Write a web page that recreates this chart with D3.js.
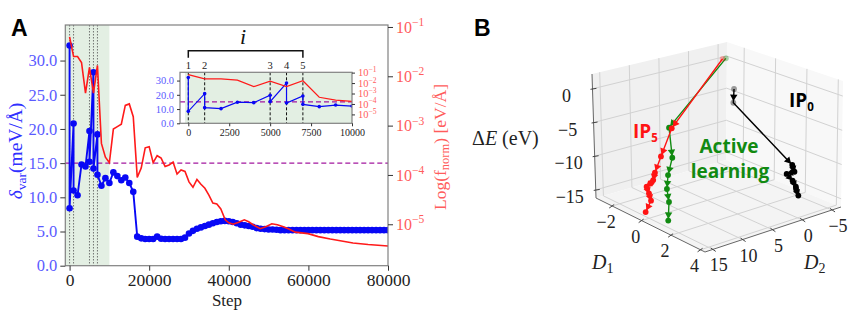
<!DOCTYPE html>
<html>
<head>
<meta charset="utf-8">
<script src="https://cdnjs.cloudflare.com/ajax/libs/d3/7.8.5/d3.min.js"></script>
<style>
body { margin: 0; background: #fff; }
svg { display: block; }
text { font-family: "Liberation Serif", serif; }
</style>
</head>
<body>
<div id="chart-area"></div>
<script>
// panel A data
var blueSteps = [0,0,1000,1000,2000,3000,4000,5000,5000,6000,6000,7000,7000,8000,9000,10000,
    11000,12000,13000,14000,15000,16000,17000,18000,19000,20000,21000,22000,23000,24000,25000,26000,27000,28000,29000,30000,
    31000,32000,33000,34000,35000,36000,37000,38000,39000,40000,41000,42000,43000,44000,45000,46000,47000,48000,49000,50000,
    51000,52000,53000,54000,55000,56000,57000,58000,59000,60000,61000,62000,63000,64000,65000,66000,67000,68000,69000,70000,
    71000,72000,73000,74000,75000,76000,77000,78000,79000,80000];
var blueVar = [32.2,8.4,20.8,11,10.3,14.8,14.5,19.7,15.2,28.3,14.2,19.2,13.3,11.7,12.8,12.1,
    13.65,13.1,12.5,12.9,12.1,10.8,4.25,4.0,3.9,3.9,3.9,4.25,3.95,3.9,3.9,3.9,3.9,3.9,4.1,4.7,
    5.1,5.4,5.6,5.8,6.0,6.2,6.4,6.5,6.55,6.5,6.4,6.2,6.0,5.9,5.8,5.7,5.5,5.4,5.35,5.3,
    5.3,5.25,5.2,5.2,5.2,5.2,5.2,5.2,5.2,5.2,5.2,5.2,5.2,5.2,5.2,5.2,5.2,5.2,5.2,5.2,
    5.2,5.2,5.2,5.2,5.2,5.2,5.2,5.2,5.2,5.2];
var redSteps = [0,1000,2000,3000,4000,5000,6000,7000,8000,9000,10000,11000,12000,13000,14000,15000,16000,17000,18000,19000,20000,
    21000,22000,23000,24000,25000,26000,27000,28000,29000,30000,31000,32000,33000,34000,35000,36000,37000,38000,39100,40000,41100,
    42500,43900,45000,46100,47900,49300,50800,52200,53700,55200,56700,59900,62500,65500,71200,75000,80000];
var redLogF = [-1.2,-1.6,-1.6,-1.72,-2.34,-1.82,-2.34,-1.78,-3.36,-3.64,-3.75,-3.07,-3.02,-2.97,-2.59,-2.56,-2.82,-4.05,-3.86,-3.45,-3.43,
    -3.75,-3.61,-3.66,-3.83,-3.8,-3.74,-3.98,-3.9,-3.93,-4.14,-4.25,-4.09,-4.19,-4.27,-4.41,-4.57,-4.59,-4.69,-4.91,-4.97,-5,
    -4.96,-4.91,-4.95,-5.01,-5.09,-5.05,-4.99,-5.01,-5.05,-5.1,-5.16,-5.19,-5.25,-5.3,-5.38,-5.41,-5.44];
var markedSteps = [0,1000,5000,6000,7000];
var markedLabels = ["1","2","3","4","5"];
var threshold = 15;
var bandEnd = 10000;
var xTicks = [0,20000,40000,60000,80000];
var yTicks = [0,5,10,15,20,25,30];
var fTicks = [-5,-4,-3,-2,-1];
var insetXTicks = [0,2500,5000,7500,10000];
var insetYTicks = [0,10,20,30];

// panel B data
var d1Ticks = [-2,0,2,4];
var d2Ticks = [15,10,5,0,-5];
var eTicks = [0,-5,-10,-15];
var blackD1 = [0,0,2.5,2.5,2.5,2.5,2.5,2.5,2.5];
var blackD2 = [0.48,0.59,-2.9,-3.29,-1.97,-2.99,-3.56,-3.6,-4.0];
var blackE = [-0.91,-2.92,-10.73,-11.82,-11.8,-13.05,-14.08,-14.43,-15.5];
var redD1 = [-2,-2,0,0,0,0,0,0,0,0];
var redD2 = [-2.85,5.83,12.9,13.95,14.25,14.52,15.39,15.0,14.66,15.6];
var redE = [1.3,-7.26,-7.94,-10.0,-10.97,-11.23,-11.64,-12.67,-13.79,-15.17];
var greenD1 = [-2,-2,0,0.5,0.5,0.5,1];
var greenD2 = [-3.4,6.29,10.97,13.0,13.2,12.86,14.27];
var greenE = [1.25,-7.06,-8.57,-10.1,-12.02,-13.94,-15.7];

var svg = d3.select("#chart-area").append("svg")
    .attr("width",859)
    .attr("height",316);

var blueCol = "#0808f5", redCol = "#ff1a1a", blueText = "#5a5aff", redText = "#ff5c5c";
var bandCol = "#e3efe3", spineCol = "#808080", purple = "#a3189f";

function pow10Label(sel,size){
    sel.each(function(d){
        var t = d3.select(this).text("");
        t.append("tspan").attr("font-size",size).text("10");
        t.append("tspan").attr("font-size",size*0.72).attr("dy",-size*0.42).text("\u2212"+Math.abs(d));
    });
}

function styleAxis(g,color,tickCol,size){
    g.select(".domain").remove();
    g.selectAll(".tick line").attr("stroke",tickCol).attr("stroke-width",1);
    g.selectAll(".tick text").attr("fill",color).attr("font-size",size)
        .style("font-family","'Liberation Serif', serif");
}

function spines(g,w,h){
    g.append("rect")
        .attr("width",w).attr("height",h)
        .attr("fill","none")
        .attr("stroke",spineCol)
        .attr("stroke-width",1.2);
}

// draws one of the two double-axis plots, main one and inset share the code
function drawPlot(g,o){
    var x = d3.scaleLinear().domain(o.xDomain).range([0,o.w]);
    var y = d3.scaleLinear().domain(o.yDomain).range([o.h,0]);
    var yF = d3.scaleLinear().domain(o.fDomain).range([o.h,0]);
    var clipId = "clip-"+o.name;

    g.append("rect").attr("width",o.w).attr("height",o.h).attr("fill","#fff");
    g.append("clipPath").attr("id",clipId).append("rect").attr("width",o.w).attr("height",o.h);
    var plot = g.append("g").attr("clip-path",`url(#${clipId})`);

    plot.append("rect")
        .attr("x",x(o.bandStart))
        .attr("width",x(bandEnd)-x(o.bandStart))
        .attr("height",o.h)
        .attr("fill",bandCol);

    plot.selectAll(".marked").data(markedSteps).enter().append("line")
        .attr("x1",d=>x(d)).attr("x2",d=>x(d))
        .attr("y1",0).attr("y2",o.h)
        .attr("stroke",o.markCol)
        .attr("stroke-width",o.markW)
        .attr("stroke-dasharray",o.markDash);

    plot.append("line")
        .attr("x1",0).attr("x2",o.w)
        .attr("y1",y(threshold)).attr("y2",y(threshold))
        .attr("stroke",purple)
        .attr("stroke-width",1.3)
        .attr("stroke-dasharray",o.dash);

    var blue = blueSteps.map((s,i)=>[s,blueVar[i]]).filter(d=>d[0]<=o.xDomain[1]);
    var red = redSteps.map((s,i)=>[s,redLogF[i]]).filter(d=>d[0]<=o.xDomain[1]);

    plot.append("path").datum(blue)
        .attr("fill","none").attr("stroke",blueCol).attr("stroke-width",o.blueW)
        .attr("d",d3.line().x(d=>x(d[0])).y(d=>y(d[1])));
    plot.selectAll(".dot").data(blue).enter().append("circle")
        .attr("cx",d=>x(d[0])).attr("cy",d=>y(d[1])).attr("r",o.r).attr("fill",blueCol);
    plot.append("path").datum(red)
        .attr("fill","none").attr("stroke",redCol).attr("stroke-width",o.redW)
        .attr("d",d3.line().x(d=>x(d[0])).y(d=>yF(d[1])));

    spines(g,o.w,o.h);

    var xAxis = g.append("g").attr("transform",`translate(0,${o.h})`)
        .call(d3.axisBottom(x).tickValues(o.xTicks).tickFormat(d3.format("d")).tickSize(o.tick).tickPadding(o.pad));
    styleAxis(xAxis,"#222","#333",o.xSize);
    var yAxis = g.append("g")
        .call(d3.axisLeft(y).tickValues(o.yTicks).tickFormat(d3.format(".1f")).tickSize(o.tick).tickPadding(o.pad));
    styleAxis(yAxis,blueText,"#333",o.ySize);
    var fAxis = g.append("g").attr("transform",`translate(${o.w},0)`)
        .call(d3.axisRight(yF).tickValues(fTicks).tickSize(o.tick).tickPadding(o.pad));
    styleAxis(fAxis,redText,"#333",o.fSize);
    fAxis.selectAll(".tick text").call(pow10Label,o.fSize);
    return x;
}

// Panel A, main plot
var gA = svg.append("g").attr("transform","translate(65.3,25)");
drawPlot(gA,{
    name:"main", w:322.7, h:240.7,
    xDomain:[-1075,80000], yDomain:[0,35.2], fDomain:[-5.84,-0.96],
    bandStart:-1075, xTicks:xTicks, yTicks:yTicks,
    tick:5, pad:3, xSize:17.5, ySize:16.5, fSize:16,
    r:3.3, blueW:1.9, redW:1.6, dash:"5,3",
    markCol:"#555", markW:0.8, markDash:"1.5,1.5"
});

// Panel A, inset
var gI = svg.append("g").attr("transform","translate(180,72.3)");
var xI = drawPlot(gI,{
    name:"inset", w:172, h:51,
    xDomain:[-507,10000], yDomain:[0,35.8], fDomain:[-5.85,-0.97],
    bandStart:-200, xTicks:insetXTicks, yTicks:insetYTicks,
    tick:3, pad:3, xSize:10, ySize:10.5, fSize:10.5,
    r:1.8, blueW:1.2, redW:1.2, dash:"5,3",
    markCol:"#111", markW:1, markDash:"3,2"
});

// bracket above the inset
var bracketL = xI(markedSteps[0]), bracketR = xI(markedSteps[4]);
gI.append("path")
    .attr("d",d3.line()([[bracketL,-14.5],[bracketL,-21.5],[bracketR,-21.5],[bracketR,-14.5]]))
    .attr("fill","none").attr("stroke","#111").attr("stroke-width",1.5);
gI.selectAll(".num").data(markedSteps).enter().append("text")
    .attr("x",d=>xI(d)).attr("y",-3)
    .attr("text-anchor","middle").attr("font-size",10.5).attr("fill","#222")
    .text((d,i)=>markedLabels[i]);
svg.append("text").attr("x",243).attr("y",44)
    .attr("text-anchor","middle").attr("font-size",22).attr("font-style","italic").attr("fill","#111")
    .text("i");

// Axis titles of panel A
var yLab = svg.append("text")
    .attr("transform","translate(22,151) rotate(-90)")
    .attr("text-anchor","middle").attr("font-size",19.5).attr("fill","#3030ff");
yLab.append("tspan").attr("font-style","italic").text("\u03b4");
yLab.append("tspan").attr("font-size",13.5).attr("dy",4).text("var");
yLab.append("tspan").attr("dy",-4).text("(meV/\u00c5)");

var fLab = svg.append("text")
    .attr("transform","translate(446,147) rotate(-90)")
    .attr("text-anchor","middle").attr("font-size",17.5).attr("fill",redText);
fLab.append("tspan").text("Log(f");
fLab.append("tspan").attr("font-size",12.5).attr("dy",3).text("norm");
fLab.append("tspan").attr("dy",-3).text(") [eV/\u00c5]");

svg.append("text").attr("x",227).attr("y",306)
    .attr("text-anchor","middle").attr("font-size",17).attr("fill","#222").text("Step");

svg.selectAll(".panel").data([["A",11,36],["B",474,36]]).enter().append("text")
    .attr("x",d=>d[1]).attr("y",d=>d[2])
    .attr("font-size",23).attr("font-weight","bold")
    .style("font-family","'Liberation Sans', sans-serif")
    .text(d=>d[0]);

// Panel B, box corners on screen, points are interpolated between them
var boxL = [596,198], boxF = [705,252], boxR = [841,207], boxB = [726,160];
var topL = [592,74], topF = [707,112], topR = [843,81], topB = [727,42];
var uScale = d3.scaleLinear().domain([-3.1,4.3]).range([0,1]);
var vScale = d3.scaleLinear().domain([16.3,-6.5]).range([0,1]);
var wScale = d3.scaleLinear().domain([-16.2,2.2]).range([0,1]);

function mix(a,b,t){ return [a[0]+(b[0]-a[0])*t, a[1]+(b[1]-a[1])*t]; }
function project(d1,d2,e){
    var u = uScale(d1), v = vScale(d2), w = wScale(e);
    var low = mix(mix(boxL,boxF,u),mix(boxB,boxR,u),v);
    var high = mix(mix(topL,topF,u),mix(topB,topR,u),v);
    return mix(low,high,w);
}
var d1Lo = uScale.domain()[0], d1Hi = uScale.domain()[1];
var d2Lo = vScale.domain()[0], d2Hi = vScale.domain()[1];
var eLo = wScale.domain()[0], eHi = wScale.domain()[1];

var gB = svg.append("g");
var poly = d3.line();
gB.append("path").attr("d",poly([boxL,boxB,topB,topL])+"Z").attr("fill","#f0f0f0");
gB.append("path").attr("d",poly([boxB,boxR,topR,topB])+"Z").attr("fill","#f8f8f8");
gB.append("path").attr("d",poly([boxL,boxF,boxR,boxB])+"Z").attr("fill","#f4f4f4");

var gridLines = [];
d2Ticks.forEach(t=>{
    gridLines.push([project(d1Lo,t,eLo),project(d1Lo,t,eHi)]);
    gridLines.push([project(d1Lo,t,eLo),project(d1Hi,t,eLo)]);
});
d1Ticks.forEach(t=>{
    gridLines.push([project(t,d2Hi,eLo),project(t,d2Hi,eHi)]);
    gridLines.push([project(t,d2Lo,eLo),project(t,d2Hi,eLo)]);
});
eTicks.forEach(t=>{
    gridLines.push([project(d1Lo,d2Lo,t),project(d1Lo,d2Hi,t)]);
    gridLines.push([project(d1Lo,d2Hi,t),project(d1Hi,d2Hi,t)]);
});
gB.selectAll(".grid").data(gridLines).enter().append("path")
    .attr("d",d=>poly(d)).attr("fill","none").attr("stroke","#d2d2d2").attr("stroke-width",1);

// box edges and ticks
gB.append("path").attr("d",poly([topL,boxL,boxF,boxR])).attr("fill","none").attr("stroke","#666").attr("stroke-width",1);
var tickMarks = [];
eTicks.forEach(t=>{ var p = project(d1Lo,d2Lo,t); tickMarks.push([[p[0]-2,p[1]+0.5],[p[0]+4,p[1]-0.5]]); });
d1Ticks.forEach(t=>{ var p = project(t,d2Lo,eLo); tickMarks.push([[p[0]+2,p[1]-1.5],[p[0]-3,p[1]+2]]); });
d2Ticks.forEach(t=>{ var p = project(d1Hi,t,eLo); tickMarks.push([[p[0]-2,p[1]-1.5],[p[0]+3,p[1]+2]]); });
gB.selectAll(".tk").data(tickMarks).enter().append("path")
    .attr("d",d=>poly(d)).attr("stroke","#444").attr("stroke-width",1);

// one trajectory: line, arrow heads, then dots
function track(d1,d2,e,color,fadeCount,fadeOp){
    var pts = d1.map((d,i)=>project(d,d2[i],e[i]));
    var g = gB.append("g");
    g.append("path").attr("d",poly(pts)).attr("fill","none").attr("stroke",color).attr("stroke-width",1.4);
    var segs = d3.pairs(pts).filter(s=>Math.hypot(s[1][0]-s[0][0],s[1][1]-s[0][1])>6);
    g.selectAll(".arrow").data(segs).enter().append("path")
        .attr("d",d3.symbol().type(d3.symbolTriangle).size(24))
        .attr("fill",color)
        .attr("transform",s=>{
            var dx = s[1][0]-s[0][0], dy = s[1][1]-s[0][1], len = Math.hypot(dx,dy);
            var back = Math.min(6,len/2);
            var ang = Math.atan2(dy,dx)*180/Math.PI+90;
            return `translate(${s[1][0]-dx/len*back},${s[1][1]-dy/len*back}) rotate(${ang})`;
        });
    g.selectAll(".pt").data(pts).enter().append("circle")
        .attr("cx",d=>d[0]).attr("cy",d=>d[1]).attr("r",2.9)
        .attr("fill",color)
        .attr("opacity",(d,i)=>i<fadeCount?fadeOp:1);
}
track(blackD1,blackD2,blackE,"#000",2,0.38);
track(greenD1,greenD2,greenE,"#118a11",1,0.35);
track(redD1,redD2,redE,"#ff1414",1,0.3);

// tick labels of the box, placed next to their ticks
function minus(v){ return v<0 ? "\u2212"+Math.abs(v) : ""+v; }
function tickLabels(vals,pos,dx,dy){
    gB.selectAll(null).data(vals).enter().append("text")
        .attr("x",d=>pos(d)[0]+dx).attr("y",d=>pos(d)[1]+dy)
        .attr("text-anchor","middle").attr("font-size",18).attr("fill","#222")
        .text(minus);
}
tickLabels(eTicks,d=>project(d1Lo,d2Lo,d),-26,13);
tickLabels(d1Ticks,d=>project(d,d2Lo,eLo),-6,22);
tickLabels(d2Ticks,d=>project(d1Hi,d,eLo),6,22);

function titled(x,y,sym,sub){
    var t = svg.append("text").attr("x",x).attr("y",y).attr("font-size",20).attr("fill","#222");
    t.append("tspan").attr("font-style","italic").text(sym);
    t.append("tspan").attr("font-size",14).attr("dy",4).text(sub);
}
titled(592,269,"D","1");
titled(804,269,"D","2");
var eLab = svg.append("text").attr("x",472).attr("y",145).attr("font-size",20).attr("fill","#222");
eLab.append("tspan").text("\u0394");
eLab.append("tspan").attr("font-style","italic").text("E");
eLab.append("tspan").text(" (eV)");

function ipLabel(x,y,sub,color){
    var t = svg.append("text").attr("x",x).attr("y",y)
        .attr("font-size",19).attr("font-weight","bold").attr("fill",color)
        .style("font-family","'Open Sans', sans-serif");
    t.append("tspan").text("IP");
    t.append("tspan").attr("font-size",11.5).attr("dy",4).text(sub);
}
ipLabel(633,138,"5","#ff1414");
ipLabel(789,106.7,"0","#000");
svg.selectAll(".al").data([["Active",729,153],["learning",730,178]]).enter().append("text")
    .attr("x",d=>d[1]).attr("y",d=>d[2])
    .attr("text-anchor","middle").attr("font-size",19).attr("font-weight","bold").attr("fill","#118a11")
    .style("font-family","'Open Sans', sans-serif")
    .text(d=>d[0]);
</script>
</body>
</html>
